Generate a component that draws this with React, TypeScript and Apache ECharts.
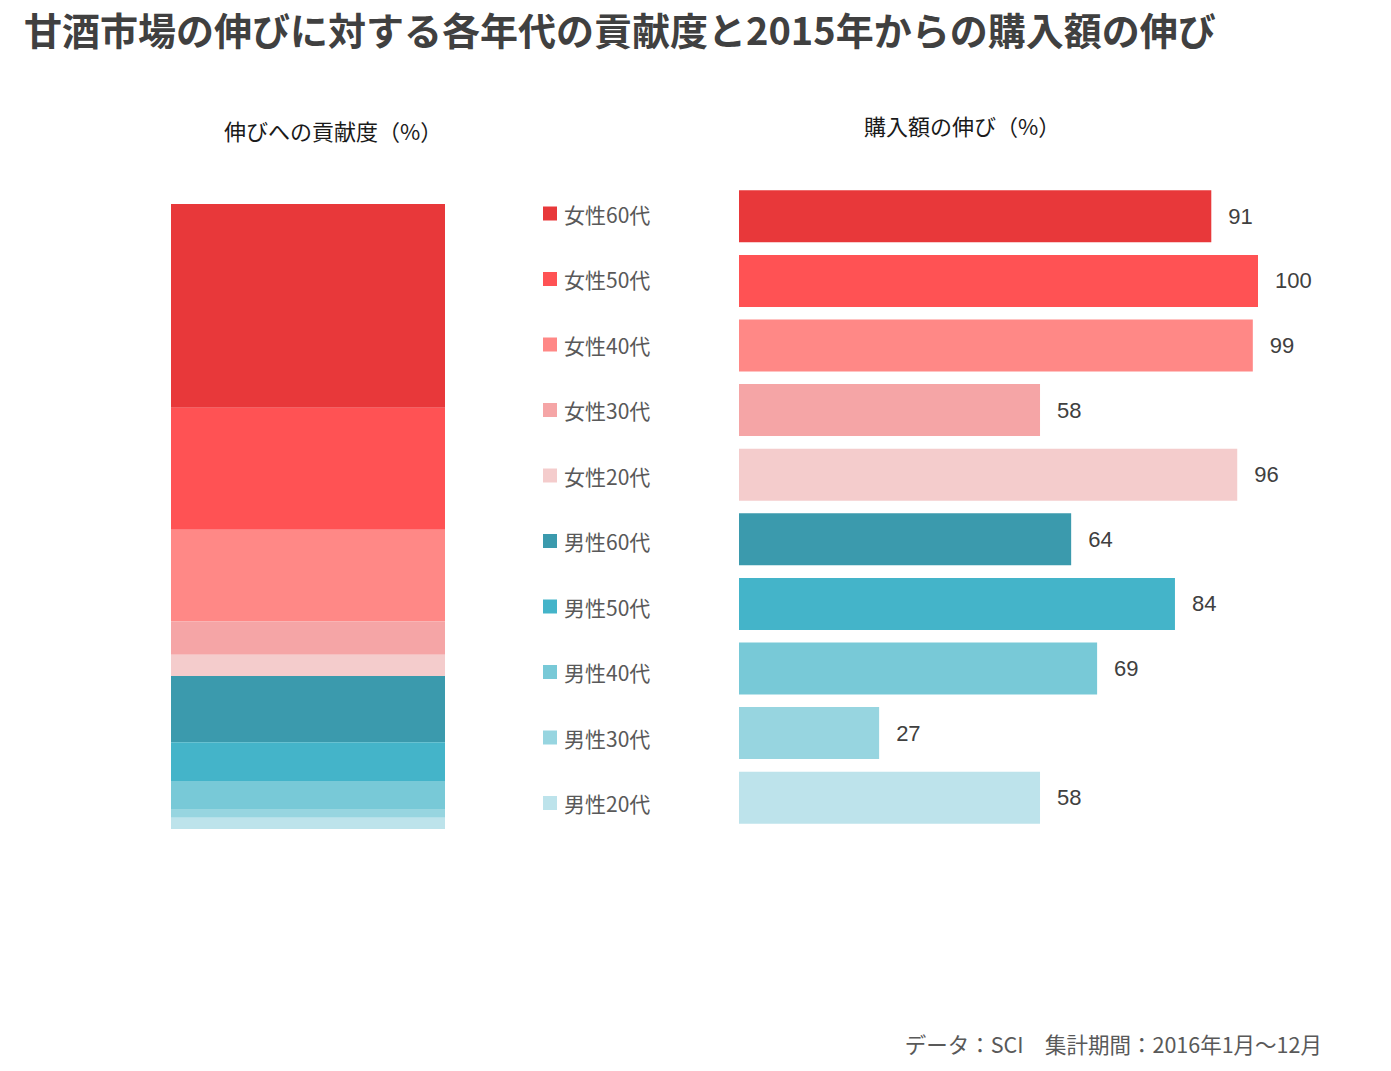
import React, { useEffect, useRef } from "react";
import * as echarts from "echarts";

const categories = ["女性60代", "女性50代", "女性40代", "女性30代", "女性20代", "男性60代", "男性50代", "男性40代", "男性30代", "男性20代"];
const contribution = [32.6, 19.5, 14.7, 5.3, 3.4, 10.6, 6.2, 4.6, 1.3, 1.8];
const growth = [91, 100, 99, 58, 96, 64, 84, 69, 27, 58];
const colors = ["#E8383A", "#FF5254", "#FF8886", "#F5A5A6", "#F4CCCC", "#3B9AAD", "#44B4C9", "#78C9D7", "#97D5E0", "#BDE3EB"];

const titleText = "甘酒市場の伸びに対する各年代の貢献度と2015年からの購入額の伸び";
const leftSubtitle = "伸びへの貢献度（%）";
const rightSubtitle = "購入額の伸び（%）";
const footerText = "データ：SCI　集計期間：2016年1月～12月";

const JP = "'Noto Sans CJK JP', 'Noto Sans', sans-serif";

export default function App() {
  const ref = useRef<HTMLDivElement>(null);
  useEffect(() => {
    document.body.style.margin = "0";
    const chart = echarts.init(ref.current!, null, { renderer: "svg" });
    const stackSeries = categories.map((c, i) => ({
      type: "bar",
      name: c,
      stack: "total",
      xAxisIndex: 0,
      yAxisIndex: 0,
      barWidth: "100%",
      data: [contribution[i]],
      itemStyle: { color: colors[i] },
    }));
    chart.setOption({
      animation: false,
      backgroundColor: "#ffffff",
      title: {
        text: titleText,
        left: 19,
        top: 4,
        textStyle: { fontSize: 38, fontWeight: "bold", color: "#404040", fontFamily: JP },
      },
      legend: {
        orient: "vertical",
        left: 538,
        top: 198,
        itemWidth: 14,
        itemHeight: 14,
        itemGap: 44.5,
        icon: "rect",
        selectedMode: false,
        data: categories,
        textStyle: { fontSize: 21, color: "#595959", fontFamily: JP, lineHeight: 21, padding: [0, 0, 0, 2] },
      },
      grid: [
        { left: 171, top: 204, width: 274, height: 625 },
        { left: 739, top: 184, width: 519, height: 646 },
      ],
      xAxis: [
        { type: "category", gridIndex: 0, data: ["貢献度"], show: false },
        { type: "value", gridIndex: 1, min: 0, max: 100, show: false },
      ],
      yAxis: [
        { type: "value", gridIndex: 0, min: 0, max: 100, inverse: true, show: false },
        { type: "category", gridIndex: 1, data: categories, inverse: true, show: false },
      ],
      series: [
        ...stackSeries,
        {
          type: "bar",
          name: "購入額の伸び",
          xAxisIndex: 1,
          yAxisIndex: 1,
          barWidth: 52,
          data: growth.map((v, i) => ({ value: v, itemStyle: { color: colors[i] } })),
          label: {
            show: true,
            position: "right",
            distance: 17,
            fontSize: 22,
            color: "#404040",
            fontFamily: "'Liberation Sans', Arial, sans-serif",
          },
        },
      ],
      graphic: [
        {
          type: "text",
          x: 333,
          y: 130,
          style: { text: leftSubtitle, fill: "#1a1a1a", fontSize: 22, fontFamily: JP, textAlign: "center", textVerticalAlign: "middle" },
        },
        {
          type: "text",
          x: 962,
          y: 125,
          style: { text: rightSubtitle, fill: "#1a1a1a", fontSize: 22, fontFamily: JP, textAlign: "center", textVerticalAlign: "middle" },
        },
        {
          type: "text",
          x: 1322,
          y: 1043,
          style: { text: footerText, fill: "#595959", fontSize: 21.5, fontFamily: JP, textAlign: "right", textVerticalAlign: "middle" },
        },
      ],
    });
    return () => chart.dispose();
  }, []);
  return <div ref={ref} style={{ width: 1391, height: 1071 }} />;
}
